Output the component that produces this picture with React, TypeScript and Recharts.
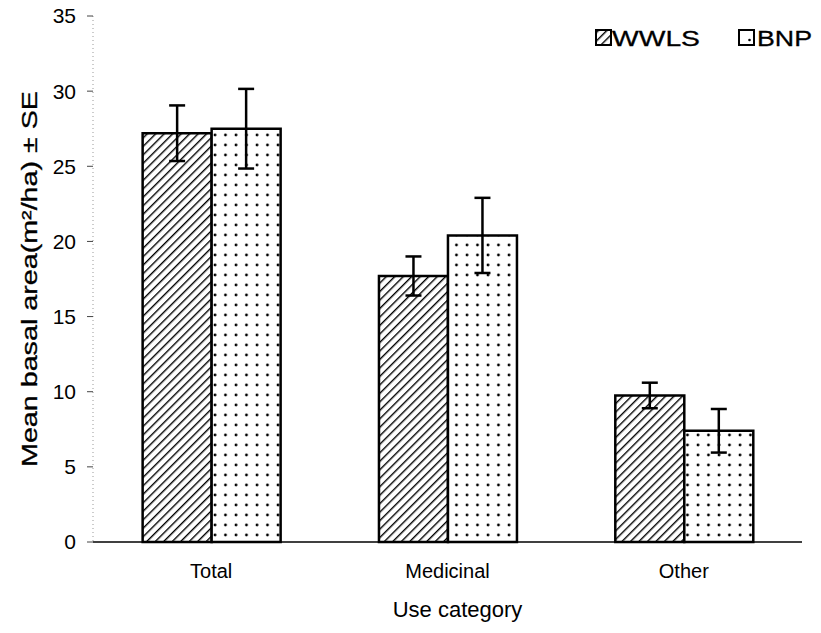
import { Bar, BarChart, ErrorBar, Label, XAxis, YAxis } from "recharts";

const categories = ["Total", "Medicinal", "Other"];
const wwls = [27.2, 17.7, 9.75];
const wwlsSE = [1.85, 1.3, 0.85];
const bnp = [27.5, 20.4, 7.4];
const bnpSE = [2.65, 2.5, 1.45];
const yTicks = [0, 5, 10, 15, 20, 25, 30, 35];

const FONT = "'Liberation Sans', Arial, sans-serif";

const rows = categories.map((name, i) => ({
  name,
  wwls: wwls[i],
  wwlsSE: wwlsSE[i],
  bnp: bnp[i],
  bnpSE: bnpSE[i],
}));

function Patterns({ prefix }: { prefix: string }) {
  return (
    <defs>
      <pattern
        id={`${prefix}hatch`}
        patternUnits="userSpaceOnUse"
        width={6}
        height={6}
        patternTransform="rotate(45)"
      >
        <rect width={6} height={6} fill="#fff" />
        <line x1={0} y1={0} x2={0} y2={6} stroke="#000" strokeWidth={2.8} />
      </pattern>
      <pattern
        id={`${prefix}dots`}
        patternUnits="userSpaceOnUse"
        width={10.5}
        height={10}
      >
        <rect width={10.5} height={10} fill="#fff" />
        <circle cx={5} cy={5} r={1.4} fill="#000" />
      </pattern>
    </defs>
  );
}

function YLabel(props: any) {
  const vb = props.viewBox || {};
  const cx = vb.x - 4;
  const cy = vb.y + vb.height / 2;
  return (
    <text
      x={cx}
      y={cy}
      transform={`rotate(-90, ${cx}, ${cy})`}
      textAnchor="middle"
      dominantBaseline="central"
      fontFamily={FONT}
      fontSize={22}
      fill="#000"
      stroke="#000"
      strokeWidth={0.3}
      textLength={376}
      lengthAdjust="spacingAndGlyphs"
    >
      Mean basal area(m²/ha) ± SE
    </text>
  );
}

function Legend() {
  return (
    <svg
      width={821}
      height={60}
      style={{ position: "absolute", left: 0, top: 0, pointerEvents: "none" }}
    >
      <Patterns prefix="lg" />
      <rect x={596} y={30} width={15} height={15} fill="url(#lghatch)" stroke="#000" strokeWidth={2} />
      <text x={612} y={46} fontFamily={FONT} fontSize={22} stroke="#000" strokeWidth={0.3} textLength={88} lengthAdjust="spacingAndGlyphs">
        WWLS
      </text>
      <rect x={739} y={30} width={15} height={15} fill="#fff" stroke="#000" strokeWidth={2} />
      <circle cx={749.5} cy={40} r={1.3} fill="#000" />
      <text x={757} y={46} fontFamily={FONT} fontSize={22} stroke="#000" strokeWidth={0.3} textLength={55} lengthAdjust="spacingAndGlyphs">
        BNP
      </text>
    </svg>
  );
}

export default function App() {
  return (
    <div style={{ position: "relative", margin: -8, width: 821, height: 633, background: "#fff" }}>
      <BarChart
        width={821}
        height={633}
        data={rows}
        margin={{ top: 16, right: 19, bottom: 6, left: 33 }}
        barCategoryGap="21%"
        barGap={0}
      >
        <Patterns prefix="ch" />
        <XAxis
          dataKey="name"
          height={85}
          tickLine={false}
          axisLine={{ stroke: "#000", strokeWidth: 1.5 }}
          tick={{ fill: "#000", fontSize: 20, fontFamily: FONT }}
          tickMargin={16}
        >
          <Label
            value="Use category"
            position="insideBottom"
            offset={10}
            dx={10}
            fill="#000"
            fontSize={22}
            fontFamily={FONT}
          />
        </XAxis>
        <YAxis
          width={60}
          domain={[0, 35]}
          ticks={yTicks}
          interval={0}
          tickSize={6}
          tickMargin={11}
          axisLine={{ stroke: "#999", strokeDasharray: "1 3" }}
          tickLine={{ stroke: "#444" }}
          tick={{ fill: "#000", fontSize: 21, fontFamily: FONT }}
        >
          <Label content={<YLabel />} />
        </YAxis>
        <Bar dataKey="wwls" fill="url(#chhatch)" stroke="#000" strokeWidth={2.5} isAnimationActive={false}>
          <ErrorBar dataKey="wwlsSE" direction="y" width={8} stroke="#000" strokeWidth={2.5} />
        </Bar>
        <Bar dataKey="bnp" fill="url(#chdots)" stroke="#000" strokeWidth={2.5} isAnimationActive={false}>
          <ErrorBar dataKey="bnpSE" direction="y" width={8} stroke="#000" strokeWidth={2.5} />
        </Bar>
      </BarChart>
      <Legend />
    </div>
  );
}
